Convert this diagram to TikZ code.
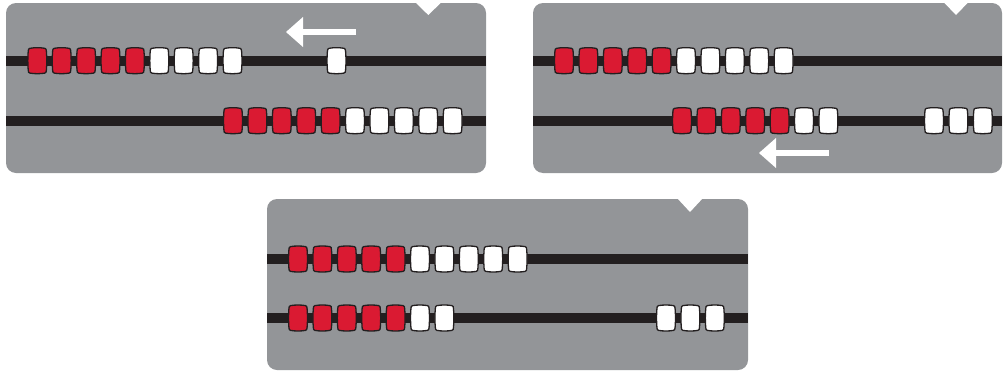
\documentclass[tikz,border=0pt]{standalone}
\usetikzlibrary{arrows.meta}

\definecolor{panelgray}{HTML}{939598}
\definecolor{rodblack}{HTML}{231F20}
\definecolor{beadred}{HTML}{DA1A32}

\tikzset{
  panel/.style={fill=panelgray, rounded corners=10pt},
  rod/.style={draw=rodblack, line width=9.5pt},
  % invisible slot that names each bead position
  beadslot/.style={rectangle, minimum width=20pt, minimum height=27.5pt,
    inner sep=0pt},
  beadline/.style={draw=rodblack, line width=1.3pt},
  redbead/.style={beadline, fill=beadred},
  whitebead/.style={beadline, fill=white},
  % barrel-shaped bead outline, centred on the pic position
  barrel/.pic={
    \path[pic actions]
      (-7.4,-12.4) .. controls (-3,-13.2) and (3,-13.2) .. (7.4,-12.4)
      .. controls (8.7,-12.2) and (9.1,-11.2) .. (9.1,-9.2)
      .. controls (9.6,-3) and (9.6,3) .. (9.1,9.2)
      .. controls (9.1,11.2) and (8.7,12.2) .. (7.4,12.4)
      .. controls (3,13.2) and (-3,13.2) .. (-7.4,12.4)
      .. controls (-8.7,12.2) and (-9.1,11.2) .. (-9.1,9.2)
      .. controls (-9.6,3) and (-9.6,-3) .. (-9.1,-9.2)
      .. controls (-9.1,-11.2) and (-8.7,-12.2) .. (-7.4,-12.4) -- cycle;
  },
  notch/.style={fill=white},
  movearrow/.style={draw=white, line width=5.5pt,
    -{Triangle[length=17pt, width=30pt, line width=0pt]}}
}

% one bead: name, x, y, style
\newcommand\putbead[4]{%
  \node[beadslot] (#1) at (#2,#3) {};
  \pic[#4] at (#1) {barrel};
}
% a row of beads: name prefix, x of first centre, y, red count, total count
\newcommand\beadrow[5]{%
  \foreach \i in {1,...,#4}{\putbead{#1\i}{{#2+(\i-1)*24.4}}{#3}{redbead}}
  \pgfmathtruncatemacro\firstwhite{#4+1}%
  \foreach \i in {\firstwhite,...,#5}{\putbead{#1\i}{{#2+(\i-1)*24.4}}{#3}{whitebead}}
}
% a group of white beads only: name prefix, x of first centre, y, count
\newcommand\whitegroup[4]{%
  \foreach \i in {1,...,#4}{\putbead{#1\i}{{#2+(\i-1)*24.4}}{#3}{whitebead}}
}

\begin{document}
\begin{tikzpicture}[x=1pt, y=-1pt]
\useasboundingbox (0,0) rectangle (1003,372);

% ---------- first abacus ----------
\fill[panel] (6,3) rectangle (486,173);
\coordinate (p1aL) at (6,61);   \coordinate (p1aR) at (486,61);
\coordinate (p1bL) at (6,121);  \coordinate (p1bR) at (486,121);
\draw[rod] (p1aL) -- (p1aR);
\draw[rod] (p1bL) -- (p1bR);
\beadrow{p1a}{37.3}{60.7}{5}{9}
\putbead{p1lone}{336.5}{60.7}{whitebead}
\beadrow{p1b}{233}{120.7}{5}{10}
\coordinate (p1arrS) at (356,32);
\coordinate (p1arrE) at (286,32);
\draw[movearrow] (p1arrS) -- (p1arrE);
\fill[notch] (415,2) -- (428.3,15) -- (441.7,2) -- cycle;

% ---------- second abacus ----------
\fill[panel] (533,3) rectangle (1002,173);
\coordinate (p2aL) at (533,61);  \coordinate (p2aR) at (1002,61);
\coordinate (p2bL) at (533,121); \coordinate (p2bR) at (1002,121);
\draw[rod] (p2aL) -- (p2aR);
\draw[rod] (p2bL) -- (p2bR);
\beadrow{p2a}{564}{60.7}{5}{10}
\beadrow{p2b}{682}{120.7}{5}{7}
\whitegroup{p2c}{934}{120.7}{3}
\coordinate (p2arrS) at (828.5,153);
\coordinate (p2arrE) at (759,153);
\draw[movearrow] (p2arrS) -- (p2arrE);
\fill[notch] (943.5,2) -- (956,15) -- (968.5,2) -- cycle;

% ---------- third abacus ----------
\fill[panel] (267,199) rectangle (748,370);
\coordinate (p3aL) at (267,259); \coordinate (p3aR) at (748,259);
\coordinate (p3bL) at (267,318); \coordinate (p3bR) at (748,318);
\draw[rod] (p3aL) -- (p3aR);
\draw[rod] (p3bL) -- (p3bR);
\beadrow{p3a}{298}{259}{5}{10}
\beadrow{p3b}{298}{318}{5}{7}
\whitegroup{p3c}{666}{318}{3}
\fill[notch] (677,198) -- (690,212) -- (703,198) -- cycle;
\end{tikzpicture}
\end{document}
